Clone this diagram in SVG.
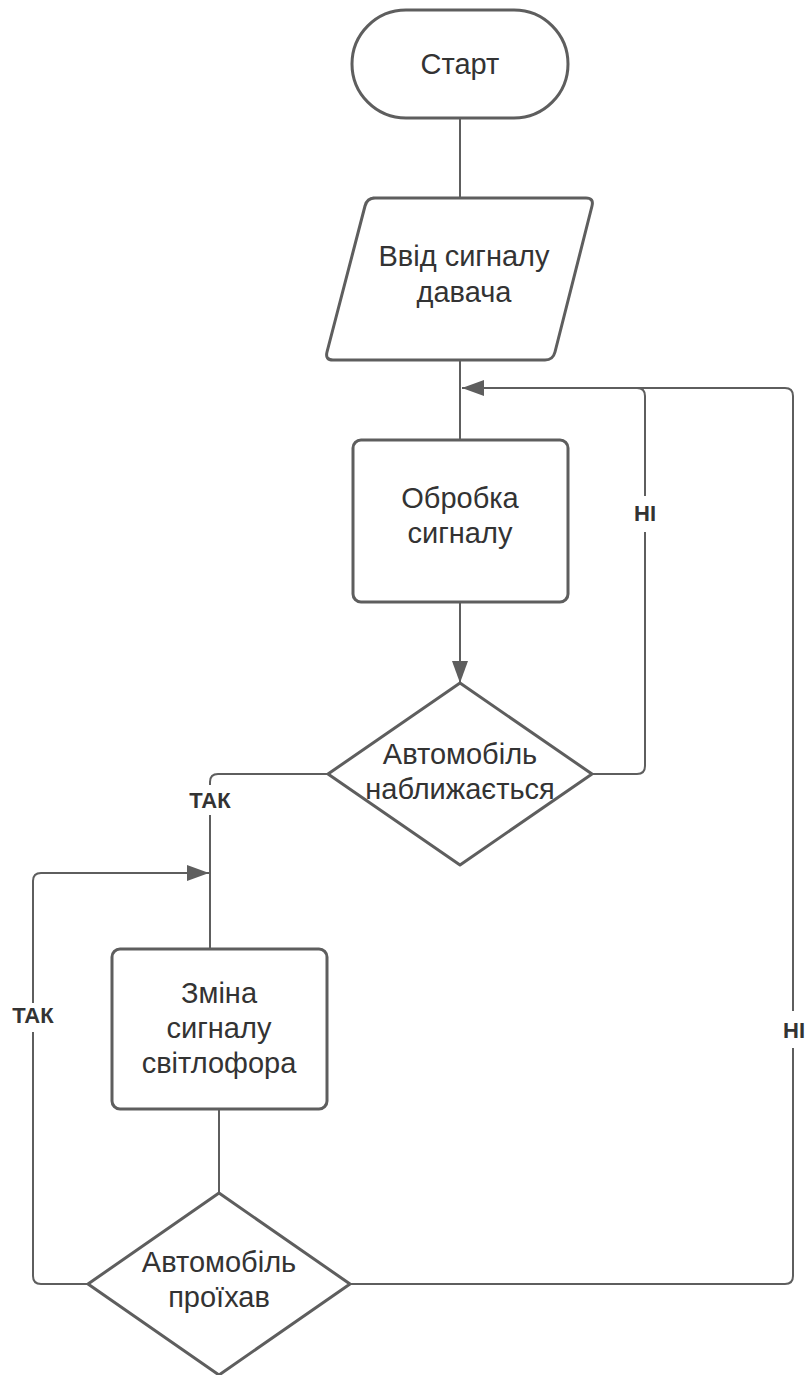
<svg xmlns="http://www.w3.org/2000/svg" width="808" height="1375" viewBox="0 0 808 1375">
<defs>
<style>
.shape{fill:#ffffff;stroke:#5e5e5e;stroke-width:3;stroke-linejoin:round}
.conn{fill:none;stroke:#5e5e5e;stroke-width:2}
.t{font-family:"Liberation Sans",Arial,sans-serif;font-size:29px;fill:#333333;text-anchor:middle}
.lbl{font-family:"Liberation Sans",Arial,sans-serif;font-size:22px;font-weight:bold;fill:#333333;text-anchor:middle}
</style>
<marker id="arr" markerUnits="userSpaceOnUse" markerWidth="22" markerHeight="16" refX="22" refY="8" orient="auto">
<path d="M0,0 L22,8 L0,16 z" fill="#5e5e5e"/>
</marker>
</defs>
<rect width="808" height="1375" fill="#ffffff"/>
<g id="connectors">
<path class="conn" d="M460 118 V198"/>
<path class="conn" d="M460 360 V440"/>
<path class="conn" d="M460 602 V683" marker-end="url(#arr)"/>
<path class="conn" d="M592 774 H637 Q645 774 645 766 V396 Q645 388 637 388 H462" marker-end="url(#arr)"/>
<path class="conn" d="M328 774 H218 Q210 774 210 782 V949"/>
<path class="conn" d="M88 1284 H41 Q33 1284 33 1276 V881 Q33 873 41 873 H209" marker-end="url(#arr)"/>
<path class="conn" d="M219 1109 V1193"/>
<path class="conn" d="M350 1284 H785 Q793 1284 793 1276 V396 Q793 388 785 388 H620"/>
<g id="labels">
<rect x="628" y="496" width="34" height="36" fill="#ffffff"/>
<text class="lbl" x="645" y="521">НІ</text>
<rect x="183" y="785" width="54" height="30" fill="#ffffff"/>
<text class="lbl" x="210" y="808">ТАК</text>
<rect x="6" y="1003" width="54" height="29" fill="#ffffff"/>
<text class="lbl" x="33" y="1023">ТАК</text>
<rect x="776" y="1011" width="32" height="37" fill="#ffffff"/>
<text class="lbl" x="794" y="1038">НІ</text>
</g>
</g>
<g id="start">
<rect class="shape" x="352" y="10" width="216" height="108" rx="54" ry="54"/>
<text class="t" x="460" y="74">Старт</text>
</g>
<g id="input">
<path class="shape" d="M373 198 H586 Q594 198 592 206 L555 352 Q553 360 545 360 H333 Q325 360 327 352 L365 206 Q367 198 375 198 Z"/>
<text class="t" x="464" y="266">Ввід сигналу</text>
<text class="t" x="464" y="302">давача</text>
</g>
<g id="process">
<rect class="shape" x="353" y="440" width="215" height="162" rx="8" ry="8"/>
<text class="t" x="460" y="508">Обробка</text>
<text class="t" x="460" y="543">сигналу</text>
</g>
<g id="decision1">
<path class="shape" d="M460 683 L592 774 L460 865 L328 774 Z"/>
<text class="t" x="460" y="764">Автомобіль</text>
<text class="t" x="460" y="799">наближається</text>
</g>
<g id="change">
<rect class="shape" x="112" y="949" width="215" height="160" rx="8" ry="8"/>
<text class="t" x="219" y="1003">Зміна</text>
<text class="t" x="219" y="1038">сигналу</text>
<text class="t" x="219" y="1073">світлофора</text>
</g>
<g id="decision2">
<path class="shape" d="M219 1193 L350 1284 L219 1375 L88 1284 Z"/>
<text class="t" x="219" y="1272">Автомобіль</text>
<text class="t" x="219" y="1307">проїхав</text>
</g>
</svg>
